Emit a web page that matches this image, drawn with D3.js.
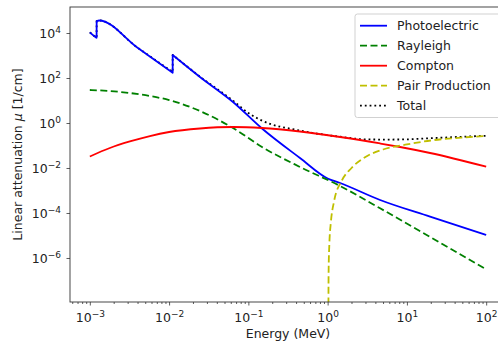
<!DOCTYPE html>
<html>
<head>
<meta charset="utf-8">
<script src="https://cdn.jsdelivr.net/npm/d3@7"></script>
<style>
  html, body { margin: 0; padding: 0; background: #fff; }
  svg { display: block; }
  text { font-family: "DejaVu Sans", sans-serif; fill: #222; }
</style>
</head>
<body>
<svg id="chart" width="498" height="344"></svg>
<script>
// ---- data (energy in MeV, linear attenuation in 1/cm) ----
// photoelectric: three pieces split at the absorption edges
const photoE   = [0.001, 0.00119, 0.001217, 0.00122, 0.00131, 0.004, 0.011099, 0.0111, 0.0245, 0.064, 0.1486, 0.448, 1.0, 1.438, 4.59, 19.6, 100];
const photoMu  = [1.07e4, 6.44e3, 6.1e3, 3.4e4, 3.6e4, 2.2e3, 172, 1050, 111, 8.58, 0.57, 0.0278, 3.41e-3, 2.15e-3, 3.78e-4, 6.85e-5, 1.05e-5];

const rayE     = [0.001, 0.00179, 0.0032, 0.00573, 0.01, 0.0245, 0.064, 0.1486, 0.448, 1.438, 4.59, 19.6, 100];
const rayMu    = [29.3, 26.4, 21.5, 15.8, 10.5, 3.41, 0.6, 0.0858, 0.0111, 1.58e-3, 1.62e-4, 8.58e-6, 3.15e-7];

const compE    = [0.001, 0.00179, 0.0032, 0.00573, 0.01, 0.0245, 0.064, 0.1486, 0.448, 1.438, 4.59, 8.2, 19.6, 100];
const compMu   = [0.0325, 0.0774, 0.151, 0.264, 0.398, 0.57, 0.664, 0.6, 0.419, 0.239, 0.123, 0.0858, 0.0464, 0.0114];

const pairE    = [1.0221, 1.025, 1.03, 1.05, 1.1, 1.2, 1.5, 2, 3, 5, 10, 20, 50, 100];
const pairMu   = [1e-9, 3.8e-8, 3.6e-7, 3.8e-6, 4e-5, 3.09e-4, 2.64e-3, 0.01, 0.0308, 0.0664, 0.111, 0.167, 0.227, 0.264];

const totalE   = [0.001, 0.00119, 0.001217, 0.00122, 0.00131, 0.004, 0.011099, 0.0111, 0.0245, 0.064, 0.1, 0.1486, 0.448, 1.438, 3.0, 5.0, 8.2, 19.6, 50, 100];
const totalMu  = [1.073e4, 6.47e3, 6.13e3, 3.4e4, 3.6e4, 2.22e3, 186, 1065, 115, 9.84, 2.78, 1.28, 0.46, 0.245, 0.187, 0.184, 0.185, 0.21, 0.245, 0.27];

// indices where an absorption edge starts a new smooth piece
const edgeStarts = [3, 7];

const xTickVals = [1e-3, 1e-2, 1e-1, 1e0, 1e1, 1e2];
const xTickExp  = ["\u22123", "\u22122", "\u22121", "0", "1", "2"];
const yTickVals = [1e4, 1e2, 1e0, 1e-2, 1e-4, 1e-6];
const yTickExp  = ["4", "2", "0", "\u22122", "\u22124", "\u22126"];

const seriesNames = ["Photoelectric", "Rayleigh", "Compton", "Pair Production", "Total"];

// ---- layout ----
const svg = d3.select("#chart");
const L = 70, T = 7, B = 302, R = 506;

const x = d3.scaleLog().domain([Math.pow(10, -3.25), Math.pow(10, 2.25)]).range([L, R]);
const y = d3.scaleLog().domain([Math.pow(10, -7.956), Math.pow(10, 5.156)]).range([B, T]);

svg.append("defs").append("clipPath").attr("id", "clip")
  .append("rect").attr("x", L).attr("y", T).attr("width", R - L).attr("height", B - T);

const series = [
  { name: seriesNames[0], E: photoE, mu: photoMu, color: "#0000ff", dash: null,        edges: true },
  { name: seriesNames[1], E: rayE,   mu: rayMu,   color: "#008000", dash: "7,3.5",     edges: false },
  { name: seriesNames[2], E: compE,  mu: compMu,  color: "#ff0000", dash: null,        edges: false },
  { name: seriesNames[3], E: pairE,  mu: pairMu,  color: "#bfbf00", dash: "7,3.5",     edges: false },
  { name: seriesNames[4], E: totalE, mu: totalMu, color: "#000000", dash: "1.8,3",     edges: true }
];

const line = d3.line().x(d => x(d[0])).y(d => y(d[1])).curve(d3.curveMonotoneX);

function pathFor(s) {
  const pts = s.E.map((e, i) => [e, s.mu[i]]);
  if (!s.edges) return line(pts);
  const cuts = [0, ...edgeStarts, pts.length];
  let d = "";
  for (let k = 0; k < cuts.length - 1; k++) {
    const seg = line(pts.slice(cuts[k], cuts[k + 1]));
    d += k === 0 ? seg : "L" + seg.slice(1);
  }
  return d;
}

const g = svg.append("g").attr("clip-path", "url(#clip)");
// total drawn underneath, then the components
const order = [4, 0, 1, 2, 3];
order.forEach(i => {
  const s = series[i];
  g.append("path")
    .attr("d", pathFor(s))
    .attr("fill", "none")
    .attr("stroke", s.color)
    .attr("stroke-width", 1.8)
    .attr("stroke-dasharray", s.dash)
    .attr("stroke-linejoin", "round");
});

// ---- axes ----
const minorX = [];
for (let p = -4; p <= 2; p++) for (let k = 2; k <= 9; k++) {
  const v = k * Math.pow(10, p);
  if (v > x.domain()[0] && v < x.domain()[1]) minorX.push(v);
}
const xAxisMinor = d3.axisBottom(x).tickValues(minorX).tickSize(2).tickFormat("");
svg.append("g").attr("transform", `translate(0,${B})`).call(xAxisMinor)
  .call(a => a.select(".domain").remove())
  .call(a => a.selectAll("line").attr("stroke", "#333").attr("stroke-width", 0.8));

const xAxis = d3.axisBottom(x).tickValues(xTickVals).tickSize(3.5).tickFormat("");
const xg = svg.append("g").attr("transform", `translate(0,${B})`).call(xAxis);
xg.select(".domain").remove();
xg.selectAll("line").attr("stroke", "#333").attr("stroke-width", 0.8);
xg.selectAll(".tick").each(function(d, i) {
  const t = d3.select(this).append("text")
    .attr("y", 20).attr("text-anchor", "middle").attr("font-size", 12.5).attr("fill", "#222");
  t.append("tspan").text("10");
  t.append("tspan").attr("dy", -5).attr("font-size", 9).text(xTickExp[i]);
});

const yAxis = d3.axisLeft(y).tickValues(yTickVals).tickSize(3.5).tickFormat("");
const yg = svg.append("g").attr("transform", `translate(${L},0)`).call(yAxis);
yg.select(".domain").remove();
yg.selectAll("line").attr("stroke", "#333").attr("stroke-width", 0.8);
yg.selectAll(".tick").each(function(d, i) {
  const t = d3.select(this).append("text")
    .attr("x", -9).attr("y", 4.5).attr("text-anchor", "end").attr("font-size", 12.5).attr("fill", "#222");
  t.append("tspan").text("10");
  t.append("tspan").attr("dy", -5).attr("font-size", 9).text(yTickExp[i]);
});

// spines
svg.append("rect").attr("x", L).attr("y", T).attr("width", R - L).attr("height", B - T)
  .attr("fill", "none").attr("stroke", "#333").attr("stroke-width", 0.9);

// axis labels
svg.append("text").attr("x", (L + R) / 2).attr("y", 338).attr("text-anchor", "middle")
  .attr("font-size", 12.5).text("Energy (MeV)");
const yl = svg.append("text").attr("transform", `translate(22,${(T + B) / 2}) rotate(-90)`)
  .attr("text-anchor", "middle").attr("font-size", 12.5);
yl.append("tspan").text("Linear attenuation ");
yl.append("tspan").attr("font-style", "italic").text("\u03bc");
yl.append("tspan").text(" [1/cm]");

// ---- legend ----
const lg = svg.append("g");
lg.append("rect").attr("x", 355).attr("y", 14).attr("width", 150).attr("height", 103.5)
  .attr("rx", 2.5).attr("fill", "#fff").attr("fill-opacity", 0.8).attr("stroke", "#ccc").attr("stroke-width", 0.9);
series.forEach((s, i) => {
  const cy = 25.7 + i * 20;
  lg.append("line").attr("x1", 360).attr("x2", 387).attr("y1", cy).attr("y2", cy)
    .attr("stroke", s.color).attr("stroke-width", 1.8).attr("stroke-dasharray", s.dash);
  lg.append("text").attr("x", 397).attr("y", cy + 4.5).attr("font-size", 12.5).text(s.name);
});
</script>
</body>
</html>
